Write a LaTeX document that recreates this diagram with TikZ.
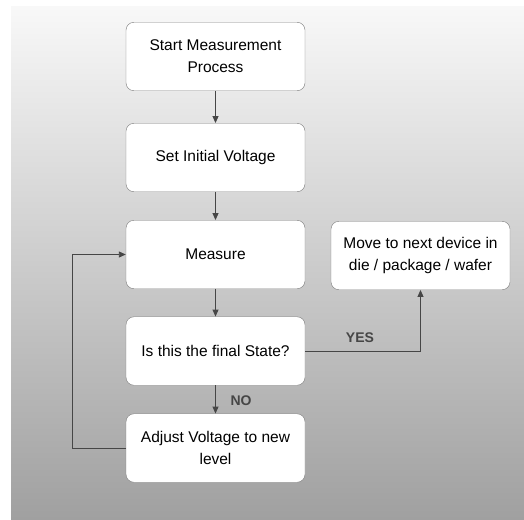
\documentclass[tikz,border=0pt]{standalone}
\usepackage{fontspec}
\setmainfont{Liberation Sans}
\usetikzlibrary{arrows.meta}
\definecolor{bgtop}{RGB}{248,248,248}
\definecolor{bgbot}{RGB}{160,160,160}
\definecolor{line}{RGB}{70,70,70}
\definecolor{frame}{RGB}{125,125,125}
\begin{document}
\begin{tikzpicture}[x=1pt, y=-1pt,
    stepbox/.style={draw=frame, fill=white, rounded corners=8pt, minimum width=179pt,
      minimum height=68.5pt, align=center, inner sep=0pt,
      font=\fontsize{15.5}{22}\selectfont},
    arr/.style={draw=line, line width=0.9pt, -{Triangle[length=7pt,width=6pt]}},
    answer/.style={font=\fontsize{14}{16}\selectfont\bfseries, text=line}]
  \useasboundingbox (0,0) rectangle (524,519);
  \shade[top color=bgtop, bottom color=bgbot] (11,7) rectangle (524,519);
  \node[stepbox] (start) at (215.5,56.5) {Start Measurement\\Process};
  \node[stepbox] (init) at (215.5,157.5) {Set Initial Voltage};
  \node[stepbox] (meas) at (215.5,254.5) {Measure};
  \node[stepbox] (final) at (215.5,351) {Is this the final State?};
  \node[stepbox] (adj) at (215.5,448) {Adjust Voltage to new\\level};
  \node[stepbox] (next) at (420.5,255.5) {Move to next device in\\die / package / wafer};
  \draw[arr] (start) -- (init);
  \draw[arr] (init) -- (meas);
  \draw[arr] (meas) -- (final);
  \draw[arr] (final) -- (adj);
  \draw[arr] (adj.west) -- ++(-53,0) |- (meas.west);
  \draw[arr] (final.east) -| (next.south);
  \node[answer] (yes) at (360,338) {YES};
  \node[answer] (no) at (241,401) {NO};
\end{tikzpicture}
\end{document}
